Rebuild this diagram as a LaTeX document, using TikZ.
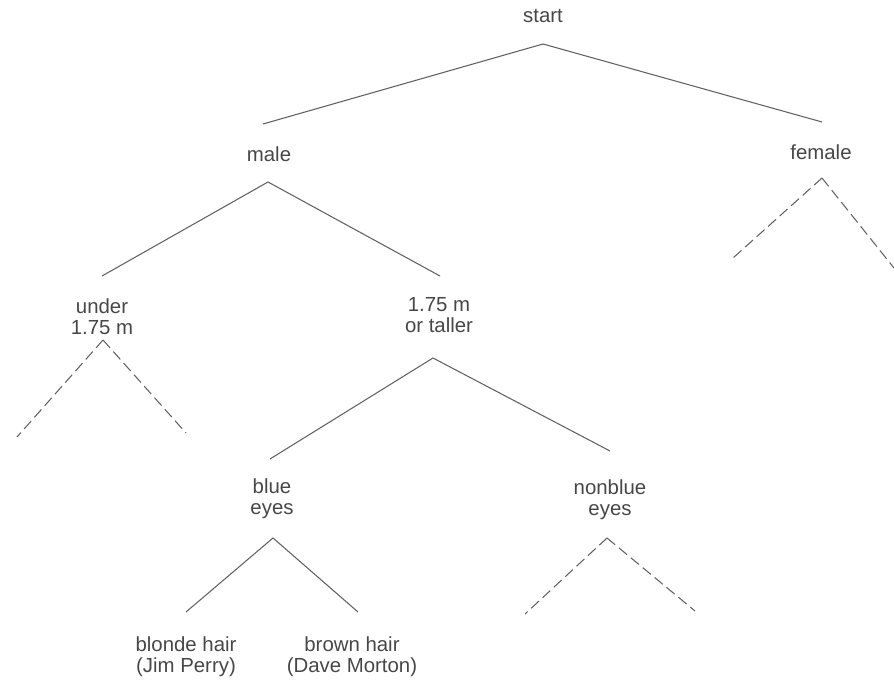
\documentclass[tikz,border=0pt]{standalone}
\usepackage{fontspec}
\setmainfont{Liberation Sans}
\usepackage{tikz}
\usetikzlibrary{positioning}

\begin{document}
\begin{tikzpicture}[x=0.025cm, y=-0.025cm]
      \useasboundingbox (0,0) rectangle (894,681);
      \tikzstyle{Choice} = [align=center, text=black!72, inner sep=0pt,
                            font=\fontsize{14.5}{15}\selectfont]
      \tikzstyle{Branch} = [draw=black!62, line width=0.75pt]
      \tikzstyle{Open} = [Branch, dash pattern=on 7.5pt off 3.5pt]
      % the choices
      \node[Choice] (start)   at (543,16)    {start};
      \node[Choice] (male)    at (269,154)   {male};
      \node[Choice] (female)  at (821,152)   {female};
      \node[Choice] (short)   at (102,317)   {under\\1.75 m};
      \node[Choice] (tall)    at (439,315)   {1.75 m\\or taller};
      \node[Choice] (blue)    at (272,498.5) {blue\\eyes};
      \node[Choice] (nonblue) at (610,500)   {nonblue\\eyes};
      \node[Choice] (blonde)  at (186,657)   {blonde hair\\(Jim Perry)};
      \node[Choice] (brown)   at (352,657)   {brown hair\\(Dave Morton)};
      % forks under the choices
      \coordinate (start-fork)   at (543,44);
      \coordinate (male-fork)    at (268,182);
      \coordinate (female-fork)  at (822,178);
      \coordinate (short-fork)   at (103,340);
      \coordinate (tall-fork)    at (433,358);
      \coordinate (blue-fork)    at (273,538);
      \coordinate (nonblue-fork) at (607,538);
      % branch ends above the choices
      \coordinate (male-top)    at (263,124);
      \coordinate (female-top)  at (822,122);
      \coordinate (short-top)   at (102,276);
      \coordinate (tall-top)    at (440,276);
      \coordinate (blue-top)    at (270,459);
      \coordinate (nonblue-top) at (610,451);
      \coordinate (blonde-top)  at (186,612);
      \coordinate (brown-top)   at (358,612);
      % open branches
      \coordinate (female-l)  at (733,258);
      \coordinate (female-r)  at (894,268);
      \coordinate (short-l)   at (17,437);
      \coordinate (short-r)   at (186,433);
      \coordinate (nonblue-l) at (525,614);
      \coordinate (nonblue-r) at (695,611);
      \draw[Branch] (male-top) -- (start-fork) -- (female-top);
      \draw[Branch] (short-top) -- (male-fork) -- (tall-top);
      \draw[Branch] (blue-top) -- (tall-fork) -- (nonblue-top);
      \draw[Branch] (blonde-top) -- (blue-fork) -- (brown-top);
      \draw[Open] (female-fork) -- (female-l);
      \draw[Open] (female-fork) -- (female-r);
      \draw[Open] (short-fork) -- (short-l);
      \draw[Open] (short-fork) -- (short-r);
      \draw[Open] (nonblue-fork) -- (nonblue-l);
      \draw[Open] (nonblue-fork) -- (nonblue-r);
\end{tikzpicture}
\end{document}
